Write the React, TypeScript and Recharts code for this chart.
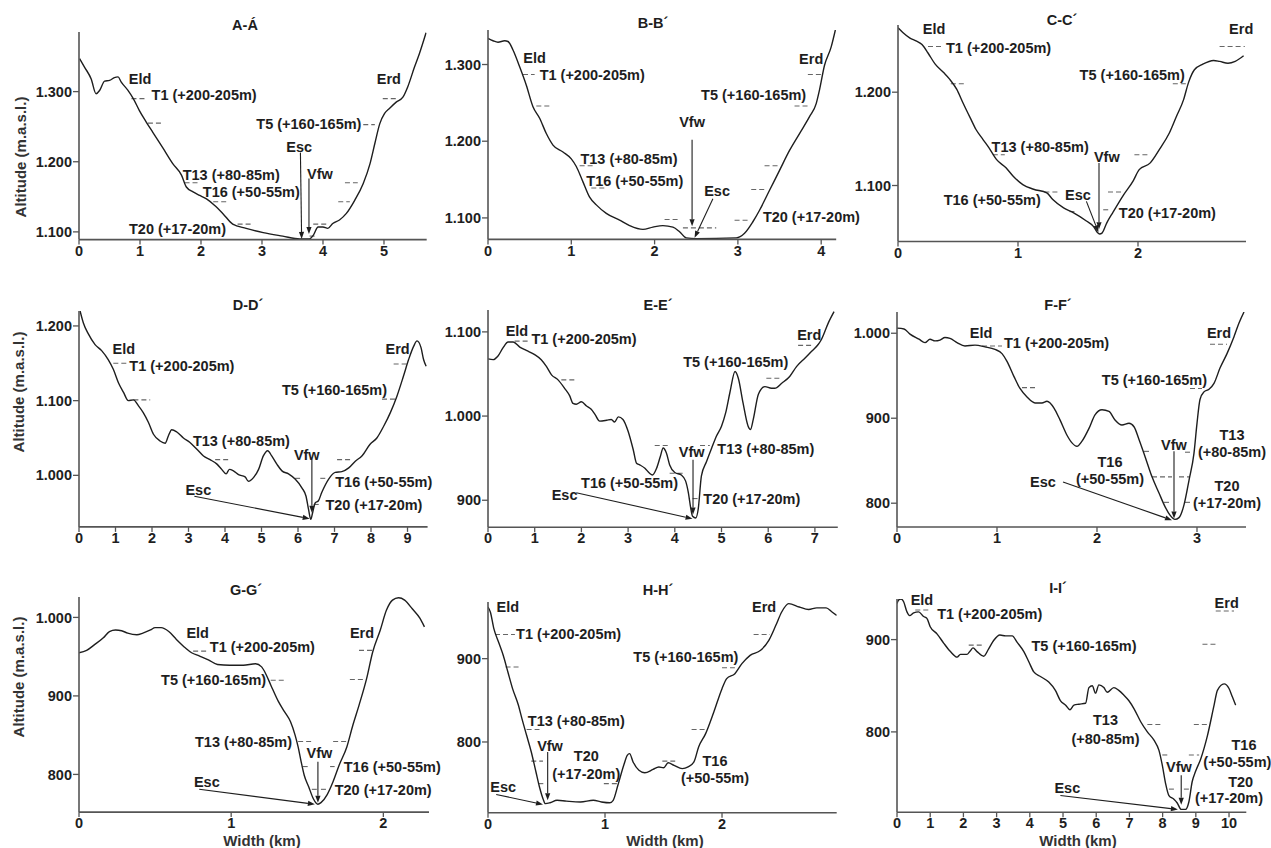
import React from 'react';
import { LineChart, Line, XAxis, YAxis, ReferenceLine, ReferenceDot } from 'recharts';

// profile widths (km) and altitudes (m a.s.l.)
const aKm = [0.01, 0.09, 0.2, 0.28, 0.34, 0.42, 0.5, 0.58, 0.64, 0.69, 0.8, 0.89, 0.99, 1.1, 1.21, 1.38, 1.54, 1.68, 1.76, 1.87, 1.98, 2.09, 2.22, 2.36, 2.52, 2.74, 3.02, 3.34, 3.62, 3.78, 3.84, 3.92, 4.0, 4.08, 4.16, 4.27, 4.38, 4.52, 4.66, 4.77, 4.85, 4.93, 5.01, 5.09, 5.2, 5.31, 5.39, 5.5, 5.58, 5.69];
const aAlt = [1347, 1335, 1318, 1297, 1302, 1315, 1316, 1320, 1321, 1314, 1302, 1290, 1273, 1257, 1242, 1219, 1197, 1181, 1164, 1157, 1152, 1147, 1138, 1126, 1111, 1105, 1099, 1094, 1090, 1090, 1095, 1107, 1107, 1105, 1112, 1117, 1126, 1145, 1169, 1197, 1226, 1254, 1269, 1276, 1285, 1292, 1307, 1335, 1354, 1384];

const bKm = [0, 0.06, 0.12, 0.2, 0.24, 0.3, 0.38, 0.46, 0.54, 0.62, 0.7, 0.78, 0.9, 1.0, 1.06, 1.14, 1.22, 1.3, 1.42, 1.58, 1.7, 1.86, 1.98, 2.1, 2.22, 2.3, 2.38, 2.5, 2.98, 3.08, 3.18, 3.26, 3.38, 3.5, 3.62, 3.74, 3.86, 3.94, 3.98, 4.04, 4.12, 4.17];
const bAlt = [1334, 1331, 1329, 1331, 1330, 1319, 1297, 1273, 1245, 1230, 1210, 1195, 1186, 1177, 1167, 1147, 1127, 1117, 1106, 1097, 1090, 1085, 1088, 1090, 1088, 1082, 1074, 1073, 1074, 1080, 1095, 1110, 1136, 1162, 1188, 1210, 1232, 1249, 1267, 1299, 1323, 1345];

const cKm = [0, 0.04, 0.1, 0.15, 0.2, 0.25, 0.31, 0.38, 0.43, 0.49, 0.54, 0.6, 0.65, 0.71, 0.76, 0.82, 0.9, 0.96, 1.04, 1.13, 1.24, 1.29, 1.38, 1.46, 1.57, 1.63, 1.66, 1.68, 1.7, 1.74, 1.79, 1.88, 1.96, 2.01, 2.1, 2.18, 2.26, 2.32, 2.38, 2.42, 2.47, 2.54, 2.63, 2.68, 2.75, 2.81, 2.88];
const cAlt = [1269, 1264, 1258, 1255, 1251, 1242, 1230, 1221, 1214, 1203, 1189, 1173, 1160, 1149, 1140, 1128, 1119, 1110, 1101, 1096, 1092, 1085, 1076, 1071, 1062, 1056, 1050, 1048, 1049, 1060, 1071, 1090, 1105, 1117, 1124, 1139, 1156, 1174, 1192, 1210, 1224, 1230, 1234, 1233, 1231, 1233, 1239];

const dKm = [0.03, 0.12, 0.26, 0.44, 0.62, 0.8, 0.94, 1.08, 1.22, 1.35, 1.49, 1.63, 1.76, 1.9, 2.04, 2.22, 2.36, 2.45, 2.54, 2.68, 2.86, 3.04, 3.23, 3.41, 3.59, 3.78, 3.91, 4.03, 4.12, 4.23, 4.37, 4.55, 4.64, 4.78, 4.92, 5.05, 5.17, 5.28, 5.42, 5.56, 5.74, 5.92, 6.11, 6.22, 6.29, 6.35, 6.4, 6.47, 6.56, 6.65, 6.84, 7.02, 7.2, 7.39, 7.57, 7.75, 7.98, 8.16, 8.35, 8.53, 8.71, 8.89, 9.03, 9.17, 9.26, 9.37, 9.44, 9.51];
const dAlt = [1220, 1204, 1189, 1175, 1167, 1155, 1142, 1124, 1111, 1100, 1101, 1093, 1084, 1071, 1055, 1046, 1043, 1053, 1061, 1058, 1050, 1044, 1035, 1026, 1021, 1015, 1008, 1002, 1008, 1006, 1001, 998, 992, 997, 1008, 1026, 1033, 1026, 1015, 1006, 1002, 995, 983, 972, 954, 941, 950, 963, 966, 977, 995, 1004, 1005, 1010, 1019, 1026, 1042, 1050, 1066, 1084, 1106, 1133, 1155, 1173, 1180, 1171, 1155, 1146];

const eKm = [0, 0.11, 0.21, 0.32, 0.43, 0.54, 0.68, 0.82, 1.0, 1.14, 1.25, 1.36, 1.5, 1.64, 1.75, 1.82, 1.89, 2.0, 2.11, 2.21, 2.29, 2.39, 2.54, 2.64, 2.71, 2.79, 2.89, 3.0, 3.11, 3.18, 3.25, 3.36, 3.46, 3.52, 3.61, 3.69, 3.75, 3.82, 3.89, 4.0, 4.14, 4.23, 4.29, 4.34, 4.38, 4.45, 4.5, 4.57, 4.68, 4.79, 4.89, 5.0, 5.09, 5.18, 5.29, 5.36, 5.46, 5.57, 5.62, 5.68, 5.79, 5.93, 6.07, 6.14, 6.29, 6.46, 6.61, 6.79, 6.93, 7.07, 7.14, 7.29, 7.41];
const eAlt = [1068, 1067, 1071, 1081, 1088, 1088, 1082, 1078, 1073, 1067, 1059, 1049, 1043, 1033, 1024, 1015, 1014, 1017, 1012, 1008, 1002, 994, 995, 996, 993, 999, 996, 982, 960, 944, 942, 938, 932, 930, 938, 952, 962, 956, 942, 933, 930, 923, 909, 891, 881, 879, 889, 929, 946, 962, 976, 988, 1004, 1028, 1053, 1045, 1016, 988, 984, 996, 1026, 1035, 1033, 1033, 1039, 1047, 1059, 1069, 1077, 1085, 1091, 1111, 1124];

const fKm = [0, 0.07, 0.13, 0.22, 0.28, 0.33, 0.38, 0.43, 0.48, 0.53, 0.6, 0.68, 0.78, 0.88, 0.98, 1.05, 1.1, 1.17, 1.23, 1.3, 1.38, 1.45, 1.5, 1.57, 1.63, 1.7, 1.75, 1.8, 1.85, 1.92, 1.98, 2.05, 2.12, 2.18, 2.25, 2.32, 2.37, 2.42, 2.48, 2.55, 2.62, 2.68, 2.73, 2.78, 2.82, 2.87, 2.92, 2.97, 3.0, 3.03, 3.07, 3.12, 3.17, 3.23, 3.3, 3.37, 3.42, 3.47];
const fAlt = [1006, 1005, 999, 993, 989, 993, 991, 992, 995, 994, 989, 985, 986, 984, 981, 976, 967, 949, 935, 925, 918, 918, 920, 912, 898, 880, 871, 867, 873, 888, 904, 910, 908, 898, 892, 894, 890, 875, 855, 831, 812, 796, 786, 781, 783, 798, 827, 859, 894, 922, 931, 934, 941, 959, 976, 996, 1012, 1025];

const gKm = [0, 0.05, 0.1, 0.16, 0.2, 0.24, 0.28, 0.32, 0.38, 0.42, 0.47, 0.5, 0.54, 0.59, 0.64, 0.7, 0.74, 0.79, 0.85, 0.91, 0.99, 1.08, 1.16, 1.2, 1.23, 1.26, 1.31, 1.35, 1.39, 1.42, 1.44, 1.46, 1.48, 1.51, 1.54, 1.57, 1.59, 1.63, 1.67, 1.71, 1.76, 1.8, 1.84, 1.89, 1.93, 1.98, 2.02, 2.06, 2.1, 2.14, 2.19, 2.24, 2.27];
const gAlt = [955, 958, 965, 974, 982, 984, 983, 980, 978, 980, 984, 987, 987, 982, 972, 961, 955, 951, 946, 940, 939, 939, 941, 937, 927, 914, 893, 880, 867, 850, 835, 816, 799, 784, 769, 762, 764, 774, 791, 812, 835, 863, 888, 922, 956, 984, 1009, 1022, 1025, 1022, 1011, 999, 988];

const hKm = [0, 0.02, 0.05, 0.09, 0.13, 0.17, 0.21, 0.26, 0.29, 0.33, 0.37, 0.41, 0.44, 0.47, 0.49, 0.53, 0.59, 0.67, 0.79, 0.9, 0.97, 1.04, 1.07, 1.11, 1.16, 1.19, 1.21, 1.24, 1.29, 1.34, 1.41, 1.46, 1.5, 1.54, 1.59, 1.66, 1.71, 1.76, 1.8, 1.86, 1.93, 2.0, 2.04, 2.11, 2.17, 2.24, 2.33, 2.4, 2.46, 2.51, 2.57, 2.66, 2.74, 2.81, 2.89, 2.94, 2.98];
const hAlt = [962, 956, 936, 920, 904, 884, 864, 844, 828, 808, 788, 764, 746, 732, 726, 727, 730, 729, 728, 730, 728, 727, 730, 748, 772, 784, 786, 776, 766, 763, 767, 770, 769, 775, 772, 768, 770, 776, 794, 810, 836, 864, 876, 882, 894, 904, 910, 922, 940, 956, 966, 962, 959, 961, 961, 956, 952];

const iKm = [0, 0.05, 0.12, 0.2, 0.3, 0.38, 0.5, 0.65, 0.8, 0.9, 1.0, 1.21, 1.41, 1.61, 1.81, 1.91, 2.11, 2.21, 2.29, 2.41, 2.61, 2.76, 2.91, 3.1, 3.27, 3.47, 3.62, 3.82, 3.97, 4.12, 4.32, 4.57, 4.77, 4.92, 5.08, 5.21, 5.33, 5.48, 5.68, 5.78, 5.88, 5.98, 6.08, 6.23, 6.33, 6.53, 6.68, 6.83, 6.98, 7.14, 7.34, 7.54, 7.74, 7.89, 7.99, 8.09, 8.19, 8.34, 8.44, 8.56, 8.69, 8.79, 8.89, 8.99, 9.15, 9.35, 9.55, 9.65, 9.85, 10.0, 10.1, 10.2];
const iAlt = [939, 943, 944, 941, 930, 926, 929, 930, 925, 923, 914, 906, 896, 887, 881, 884, 884, 888, 891, 887, 882, 890, 899, 905, 904, 904, 897, 887, 876, 865, 860, 854, 845, 834, 829, 824, 829, 830, 831, 848, 850, 842, 851, 848, 843, 848, 845, 840, 834, 825, 811, 800, 791, 780, 764, 744, 731, 727, 723, 716, 716, 724, 746, 757, 771, 796, 829, 845, 852, 847, 838, 829];

// terrace levels: [from km, to km, altitude]
const aTerr = [[0.86, 1.08, 1290], [1.13, 1.38, 1255], [1.73, 1.95, 1170], [2.2, 2.42, 1143], [2.6, 2.83, 1111], [3.78, 3.89, 1094], [3.84, 4.09, 1111], [4.25, 4.44, 1143], [4.36, 4.57, 1170], [4.66, 4.85, 1253], [4.98, 5.2, 1290]];
const bTerr = [[0.42, 0.56, 1287], [0.58, 0.74, 1246], [1.1, 1.26, 1168], [1.24, 1.4, 1139], [2.12, 2.28, 1098], [2.34, 2.74, 1087], [2.96, 3.12, 1097], [3.16, 3.32, 1137], [3.32, 3.48, 1168], [3.68, 3.84, 1246], [3.84, 4.0, 1287]];
const cTerr = [[0.25, 0.38, 1249], [0.44, 0.57, 1209], [0.79, 0.89, 1133], [1.22, 1.33, 1093], [1.43, 1.47, 1072], [1.71, 1.76, 1074], [1.75, 1.86, 1093], [1.97, 2.1, 1133], [2.29, 2.4, 1209], [2.68, 2.89, 1249]];
const dTerr = [[0.94, 1.3, 1150], [1.49, 1.95, 1101], [3.73, 4.14, 1021], [5.92, 6.1, 996], [6.43, 6.61, 961], [6.61, 6.75, 996], [7.07, 7.43, 1021], [8.3, 8.67, 1102], [8.62, 8.99, 1149]];
const eTerr = [[0.57, 0.86, 1089], [1.57, 1.89, 1043], [3.57, 3.86, 965], [3.89, 4.18, 932], [4.38, 4.49, 902], [4.54, 4.75, 965], [5.96, 6.25, 1045], [6.64, 6.96, 1084]];
const fTerr = [[0.85, 1.05, 985], [1.25, 1.4, 936], [2.47, 2.53, 861], [2.55, 2.75, 831], [2.67, 2.75, 801], [2.82, 2.92, 831], [2.88, 2.93, 801], [2.88, 2.95, 860], [2.93, 3.05, 935], [3.13, 3.3, 987]];
const gTerr = [[0.75, 0.84, 957], [1.26, 1.35, 920], [1.44, 1.53, 842], [1.47, 1.52, 810], [1.53, 1.58, 781], [1.59, 1.64, 781], [1.65, 1.68, 810], [1.67, 1.76, 842], [1.78, 1.87, 921], [1.84, 1.93, 958]];
const hTerr = [[0.06, 0.23, 929], [0.15, 0.27, 890], [0.33, 0.44, 815], [0.37, 0.47, 777], [0.43, 0.49, 750], [0.99, 1.11, 750], [1.49, 1.6, 777], [1.74, 1.87, 815], [2.0, 2.11, 889], [2.27, 2.41, 929]];
const iTerr = [[0.55, 1.0, 932], [2.16, 2.56, 894], [7.54, 7.94, 808], [7.99, 8.19, 775], [8.19, 8.34, 738], [8.64, 8.79, 738], [8.79, 9.1, 775], [8.94, 9.35, 808], [9.2, 9.6, 895], [9.6, 10.15, 931]];

// annotations: [text, km, altitude, anchor]
const aNotes = [['Eld', 1.0, 1318, 'middle'], ['T1 (+200-205m)', 1.19, 1295, 'start'], ['Erd', 5.08, 1318, 'middle'], ['T5 (+160-165m)', 4.63, 1254, 'end'], ['Esc', 3.61, 1222, 'middle'], ['Vfw', 3.95, 1183, 'middle'], ['T13 (+80-85m)', 1.7, 1181, 'start'], ['T16 (+50-55m)', 2.03, 1157, 'start'], ['T20 (+17-20m)', 0.82, 1105, 'start']];
const bNotes = [['Eld', 0.56, 1309, 'middle'], ['T1 (+200-205m)', 0.62, 1287, 'start'], ['Erd', 3.88, 1308, 'middle'], ['T5 (+160-165m)', 3.82, 1260, 'end'], ['Vfw', 2.45, 1225, 'middle'], ['T13 (+80-85m)', 1.11, 1177, 'start'], ['T16 (+50-55m)', 1.18, 1148, 'start'], ['Esc', 2.75, 1135, 'middle'], ['T20 (+17-20m)', 3.3, 1101, 'start']];
const cNotes = [['Eld', 0.3, 1268, 'middle'], ['T1 (+200-205m)', 0.4, 1248, 'start'], ['Erd', 2.86, 1268, 'middle'], ['T5 (+160-165m)', 2.39, 1219, 'end'], ['T13 (+80-85m)', 0.78, 1142, 'start'], ['Vfw', 1.74, 1131, 'middle'], ['T16 (+50-55m)', 1.19, 1085, 'end'], ['Esc', 1.5, 1090, 'middle'], ['T20 (+17-20m)', 1.84, 1071, 'start']];
const dNotes = [['Eld', 1.23, 1169, 'middle'], ['T1 (+200-205m)', 1.38, 1146, 'start'], ['Erd', 8.73, 1169, 'middle'], ['T5 (+160-165m)', 8.44, 1114, 'end'], ['T13 (+80-85m)', 3.12, 1046, 'start'], ['Vfw', 6.24, 1028, 'middle'], ['T16 (+50-55m)', 7.02, 992, 'start'], ['Esc', 3.27, 981, 'middle'], ['T20 (+17-20m)', 6.75, 961, 'start']];
const eNotes = [['Eld', 0.62, 1101, 'middle'], ['T1 (+200-205m)', 0.93, 1092, 'start'], ['Erd', 6.88, 1097, 'middle'], ['T5 (+160-165m)', 6.43, 1064, 'end'], ['T13 (+80-85m)', 4.91, 961, 'start'], ['Vfw', 4.36, 958, 'middle'], ['T16 (+50-55m)', 4.07, 921, 'end'], ['Esc', 1.64, 907, 'middle'], ['T20 (+17-20m)', 4.61, 902, 'start']];
const fNotes = [['Eld', 0.84, 1001, 'middle'], ['T1 (+200-205m)', 1.07, 989, 'start'], ['Erd', 3.22, 1001, 'middle'], ['T5 (+160-165m)', 3.1, 945, 'end'], ['T13', 3.35, 880, 'middle'], ['(+80-85m)', 3.35, 860, 'middle'], ['Vfw', 2.77, 869, 'middle'], ['T16', 2.13, 849, 'middle'], ['(+50-55m)', 2.13, 829, 'middle'], ['Esc', 1.46, 825, 'middle'], ['T20', 3.3, 820, 'middle'], ['(+17-20m)', 3.3, 800, 'middle']];
const gNotes = [['Eld', 0.78, 980, 'middle'], ['T1 (+200-205m)', 0.86, 963, 'start'], ['Erd', 1.86, 980, 'middle'], ['T5 (+160-165m)', 1.23, 920, 'end'], ['T13 (+80-85m)', 1.4, 842, 'end'], ['Vfw', 1.58, 827, 'middle'], ['T16 (+50-55m)', 1.74, 810, 'start'], ['Esc', 0.84, 791, 'middle'], ['T20 (+17-20m)', 1.68, 781, 'start']];
const hNotes = [['Eld', 0.17, 962, 'middle'], ['T1 (+200-205m)', 0.24, 930, 'start'], ['Erd', 2.36, 962, 'middle'], ['T5 (+160-165m)', 2.14, 902, 'end'], ['T13 (+80-85m)', 0.34, 826, 'start'], ['Vfw', 0.53, 796, 'middle'], ['T20', 0.84, 783, 'middle'], ['(+17-20m)', 0.84, 762, 'middle'], ['T16', 1.94, 777, 'middle'], ['(+50-55m)', 1.94, 757, 'middle'], ['Esc', 0.13, 746, 'middle']];
const iNotes = [['Eld', 0.75, 943, 'middle'], ['T1 (+200-205m)', 1.21, 928, 'start'], ['Erd', 9.93, 940, 'middle'], ['T5 (+160-165m)', 4.05, 893, 'start'], ['T13', 6.28, 813, 'middle'], ['(+80-85m)', 6.28, 793, 'middle'], ['T16', 10.45, 786, 'middle'], ['(+50-55m)', 10.25, 768, 'middle'], ['Vfw', 8.49, 762, 'middle'], ['T20', 10.35, 746, 'middle'], ['(+17-20m)', 10.0, 729, 'middle'], ['Esc', 5.13, 739, 'middle']];

// arrows: [from km, from alt, to km, to alt]
const aArrows = [[3.63, 1213, 3.65, 1090], [3.77, 1176, 3.77, 1097]];
const bArrows = [[2.45, 1202, 2.45, 1089], [2.7, 1125, 2.48, 1074]];
const cArrows = [[1.675, 1124, 1.675, 1053], [1.57, 1083, 1.67, 1050]];
const dArrows = [[6.38, 1021, 6.38, 950], [3.16, 972, 6.32, 942]];
const eArrows = [[4.39, 948, 4.39, 883], [1.89, 909, 4.38, 878]];
const fArrows = [[2.77, 861, 2.77, 782], [1.66, 825, 2.75, 780]];
const gArrows = [[1.57, 816, 1.57, 764], [0.79, 781, 1.55, 762]];
const hArrows = [[0.51, 788, 0.51, 730], [0.07, 737, 0.47, 725]];
const iArrows = [[8.56, 753, 8.56, 721], [4.92, 731, 8.46, 716]];

const INK = '#1e1e1e';
const AXIS = '#555';

const fmtAlt = (v: number) =>
  v >= 1000 ? `${Math.floor(v / 1000)}.${String(v % 1000).padStart(3, '0')}` : String(v);

function arrowShape(p: any) {
  const { x1, y1, x2, y2 } = p;
  const a = Math.atan2(y2 - y1, x2 - x1);
  const L = 7;
  const W = 2.6;
  const bx = x2 - L * Math.cos(a);
  const by = y2 - L * Math.sin(a);
  const pts = `${x2},${y2} ${bx - W * Math.sin(a)},${by + W * Math.cos(a)} ${bx + W * Math.sin(a)},${by - W * Math.cos(a)}`;
  return (
    <g>
      <line x1={x1} y1={y1} x2={bx} y2={by} stroke={INK} strokeWidth={1.1} />
      <polygon points={pts} fill={INK} />
    </g>);
}

const ML = 60, MT = 20, MR = 40, MB = 30;

function Profile({ p }: { p: any }) {
  const data = p.km.map((x: number, i: number) => ({ x, y: p.alt[i] }));
  return (
    <div style={{ position: 'absolute', left: p.left - ML, top: p.top - MT }}>
      <LineChart width={p.w + ML + MR} height={p.h + MT + MB} data={data}
        margin={{ top: MT, right: MR, bottom: 0, left: 0 }}>
        <XAxis type="number" dataKey="x" domain={[0, p.xMax]} ticks={p.xTicks} interval={0}
          allowDataOverflow height={MB} tickSize={5} tickMargin={1}
          axisLine={{ stroke: AXIS, strokeWidth: 1.6 }} tickLine={{ stroke: AXIS, strokeWidth: 1.3 }}
          tick={{ fill: INK, fontSize: 14.5, fontWeight: 700 }} />
        <YAxis type="number" domain={[p.yMin, p.yMax]} ticks={p.yTicks} interval={0}
          allowDataOverflow width={ML} tickSize={6} tickMargin={1} tickFormatter={fmtAlt}
          axisLine={{ stroke: AXIS, strokeWidth: 1.6 }} tickLine={{ stroke: AXIS, strokeWidth: 1.3 }}
          tick={{ fill: INK, fontSize: 14.5, fontWeight: 700 }} />
        {p.terr.map((t: number[], i: number) =>
        <ReferenceLine key={'t' + i} segment={[{ x: t[0], y: t[2] }, { x: t[1], y: t[2] }]}
          stroke="#666" strokeWidth={1.1} strokeDasharray="5 3" ifOverflow="visible" />
        )}
        <Line type="monotone" dataKey="y" stroke={INK} strokeWidth={1.4} dot={false}
          isAnimationActive={false} />
        {p.arrows.map((a: number[], i: number) =>
        <ReferenceLine key={'a' + i} segment={[{ x: a[0], y: a[1] }, { x: a[2], y: a[3] }]}
          ifOverflow="visible" shape={arrowShape} />
        )}
        {p.notes.map((n: any[], i: number) =>
        <ReferenceDot key={'n' + i} x={n[1]} y={n[2]} r={0} ifOverflow="visible"
          shape={(s: any) =>
          <text x={s.cx} y={s.cy} dy="0.36em" textAnchor={n[3]} fill={INK}
            fontSize={14.5} fontWeight={700}>{n[0]}</text>
          } />
        )}
      </LineChart>
    </div>);
}

const panels = [
{ title: 'A-Á', tx: 245, ty: 25, left: 79.3, top: 31.7, w: 347.7, h: 207.6, xMax: 5.7, yMin: 1089, yMax: 1385, xTicks: [0, 1, 2, 3, 4, 5], yTicks: [1100, 1200, 1300], km: aKm, alt: aAlt, terr: aTerr, notes: aNotes, arrows: aArrows },
{ title: 'B-B´', tx: 653, ty: 23, left: 488.3, top: 29.9, w: 348.2, h: 209.4, xMax: 4.18, yMin: 1072, yMax: 1345, xTicks: [0, 1, 2, 3, 4], yTicks: [1100, 1200, 1300], km: bKm, alt: bAlt, terr: bTerr, notes: bNotes, arrows: bArrows },
{ title: 'C-C´', tx: 1062, ty: 20, left: 898.3, top: 25.2, w: 348, h: 216.5, xMax: 2.9, yMin: 1040, yMax: 1272, xTicks: [0, 1, 2], yTicks: [1100, 1200], km: cKm, alt: cAlt, terr: cTerr, notes: cNotes, arrows: cArrows },
{ title: 'D-D´', tx: 248, ty: 305, left: 79, top: 311.4, w: 348.6, h: 215.9, xMax: 9.55, yMin: 931, yMax: 1220, xTicks: [0, 1, 2, 3, 4, 5, 6, 7, 8, 9], yTicks: [1000, 1100, 1200], km: dKm, alt: dAlt, terr: dTerr, notes: dNotes, arrows: dArrows },
{ title: 'E-E´', tx: 658, ty: 305, left: 487.7, top: 310.1, w: 349.8, h: 217.2, xMax: 7.49, yMin: 868, yMax: 1126, xTicks: [0, 1, 2, 3, 4, 5, 6, 7], yTicks: [900, 1000, 1100], km: eKm, alt: eAlt, terr: eTerr, notes: eNotes, arrows: eArrows },
{ title: 'F-F´', tx: 1058, ty: 305, left: 897.3, top: 312.3, w: 349, h: 215, xMax: 3.49, yMin: 772, yMax: 1025, xTicks: [0, 1, 2, 3], yTicks: [800, 900, 1000], km: fKm, alt: fAlt, terr: fTerr, notes: fNotes, arrows: fArrows },
{ title: 'G-G´', tx: 246, ty: 590, left: 78.5, top: 597.2, w: 350, h: 215.1, xMax: 2.3, yMin: 752, yMax: 1026, xTicks: [0, 1, 2], yTicks: [800, 900, 1000], km: gKm, alt: gAlt, terr: gTerr, notes: gNotes, arrows: gArrows },
{ title: 'H-H´', tx: 658, ty: 590, left: 487.7, top: 601.5, w: 348.7, h: 210.8, xMax: 2.98, yMin: 715, yMax: 968, xTicks: [0, 1, 2], yTicks: [800, 900], km: hKm, alt: hAlt, terr: hTerr, notes: hNotes, arrows: hArrows },
{ title: 'I-I´', tx: 1058, ty: 588, left: 896.7, top: 599.1, w: 349.3, h: 213.2, xMax: 10.52, yMin: 713, yMax: 944, xTicks: [0, 1, 2, 3, 4, 5, 6, 7, 8, 9, 10], yTicks: [800, 900], km: iKm, alt: iAlt, terr: iTerr, notes: iNotes, arrows: iArrows }];


const yLabels = [{ x: 20, y: 157 }, { x: 18, y: 392 }, { x: 18, y: 677 }];
const xLabels = [{ x: 262, y: 840 }, { x: 665, y: 840 }, { x: 1078, y: 840 }];

const center: React.CSSProperties = {
  position: 'absolute', transform: 'translate(-50%, -50%)', whiteSpace: 'nowrap',
  fontWeight: 700, color: INK
};

export default function App() {
  return (
    <div style={{
      position: 'absolute', left: 0, top: 0, width: 1271, height: 848, background: '#fff',
      overflow: 'hidden', fontFamily: '"Liberation Sans", Arial, sans-serif'
    }}>
      {panels.map((p) => <Profile key={p.title} p={p} />)}
      {panels.map((p) =>
      <div key={'h' + p.title} style={{ ...center, left: p.tx, top: p.ty, fontSize: 14.5 }}>{p.title}</div>
      )}
      {yLabels.map((l, i) =>
      <div key={'y' + i} style={{ ...center, left: l.x, top: l.y, fontSize: 15, color: '#333',
        transform: 'translate(-50%, -50%) rotate(-90deg)' }}>Altitude (m.a.s.l.)</div>
      )}
      {xLabels.map((l, i) =>
      <div key={'x' + i} style={{ ...center, left: l.x, top: l.y, fontSize: 15, color: '#333' }}>Width (km)</div>
      )}
    </div>);
}
